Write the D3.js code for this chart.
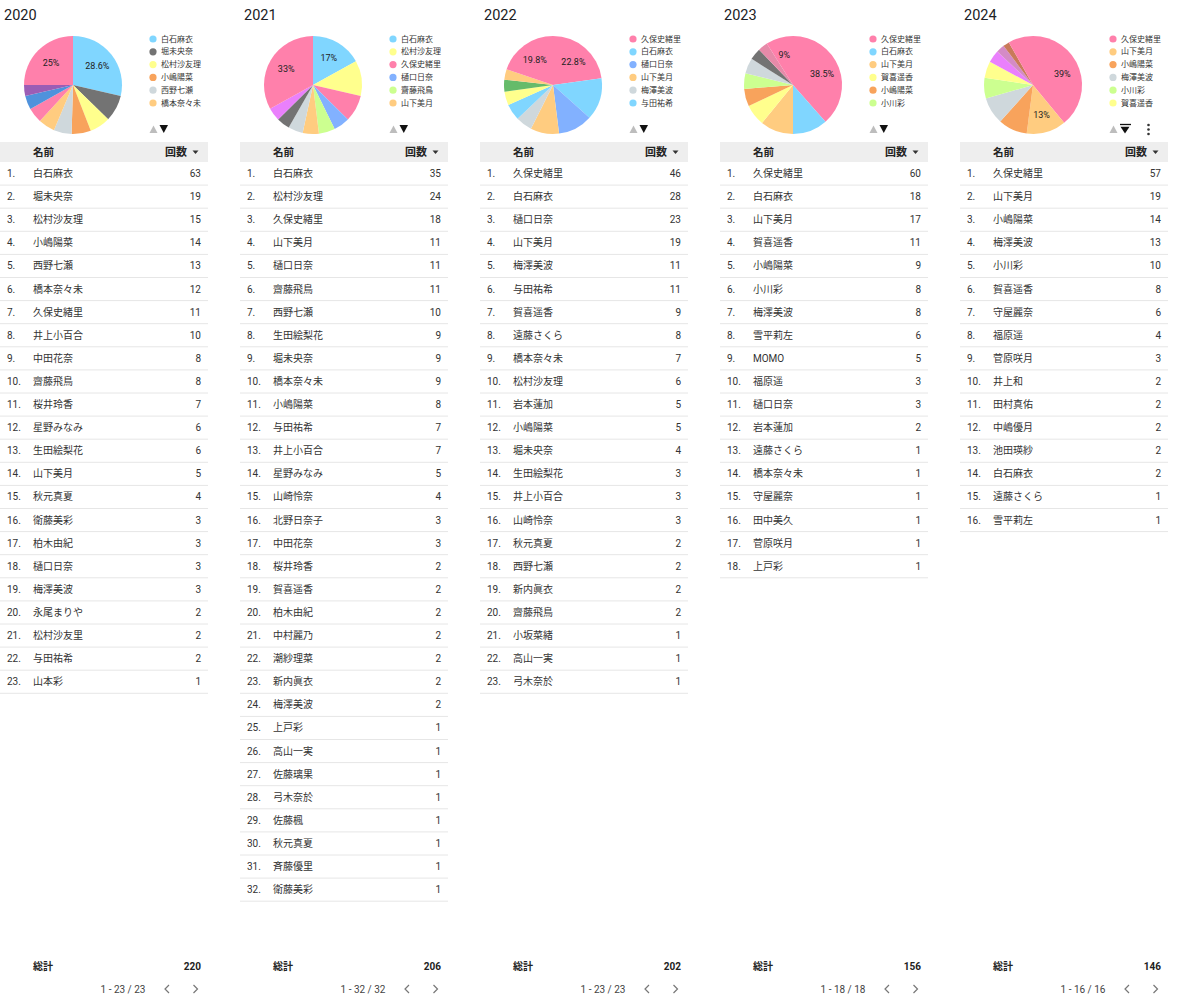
<!DOCTYPE html>
<html><head><meta charset="utf-8">
<script src="https://cdn.jsdelivr.net/npm/d3@7"></script>
<style>
body{margin:0;background:#fff;}
svg text{font-family:Roboto,"Noto Sans CJK JP",sans-serif;}
</style>
</head><body>
<svg id="chart" width="1200" height="1000"></svg>
<script>
const years = ["2020", "2021", "2022", "2023", "2024"];

const names2020 = ["白石麻衣","堀未央奈","松村沙友理","小嶋陽菜","西野七瀬","橋本奈々未","久保史緒里","井上小百合","中田花奈","齋藤飛鳥","桜井玲香","星野みなみ","生田絵梨花","山下美月","秋元真夏","衛藤美彩","柏木由紀","樋口日奈","梅澤美波","永尾まりや","松村沙友里","与田祐希","山本彩"];
const counts2020 = [63,19,15,14,13,12,11,10,8,8,7,6,6,5,4,3,3,3,3,2,2,2,1];

const names2021 = ["白石麻衣","松村沙友理","久保史緒里","山下美月","樋口日奈","齋藤飛鳥","西野七瀬","生田絵梨花","堀未央奈","橋本奈々未","小嶋陽菜","与田祐希","井上小百合","星野みなみ","山崎怜奈","北野日奈子","中田花奈","桜井玲香","賀喜遥香","柏木由紀","中村麗乃","潮紗理菜","新内眞衣","梅澤美波","上戸彩","高山一実","佐藤璃果","弓木奈於","佐藤楓","秋元真夏","斉藤優里","衛藤美彩"];
const counts2021 = [35,24,18,11,11,11,10,9,9,9,8,7,7,5,4,3,3,2,2,2,2,2,2,2,1,1,1,1,1,1,1,1];

const names2022 = ["久保史緒里","白石麻衣","樋口日奈","山下美月","梅澤美波","与田祐希","賀喜遥香","遠藤さくら","橋本奈々未","松村沙友理","岩本蓮加","小嶋陽菜","堀未央奈","生田絵梨花","井上小百合","山崎怜奈","秋元真夏","西野七瀬","新内眞衣","齋藤飛鳥","小坂菜緒","高山一実","弓木奈於"];
const counts2022 = [46,28,23,19,11,11,9,8,7,6,5,5,4,3,3,3,2,2,2,2,1,1,1];

const names2023 = ["久保史緒里","白石麻衣","山下美月","賀喜遥香","小嶋陽菜","小川彩","梅澤美波","雪平莉左","MOMO","福原遥","樋口日奈","岩本蓮加","遠藤さくら","橋本奈々未","守屋麗奈","田中美久","菅原咲月","上戸彩"];
const counts2023 = [60,18,17,11,9,8,8,6,5,3,3,2,1,1,1,1,1,1];

const names2024 = ["久保史緒里","山下美月","小嶋陽菜","梅澤美波","小川彩","賀喜遥香","守屋麗奈","福原遥","菅原咲月","井上和","田村真佑","中嶋優月","池田瑛紗","白石麻衣","遠藤さくら","雪平莉左"];
const counts2024 = [57,19,14,13,10,8,6,4,3,2,2,2,2,2,1,1];

// pie slice order (top 9 + others), as drawn in the reference
const pie2020 = ["白石麻衣","堀未央奈","松村沙友理","小嶋陽菜","西野七瀬","橋本奈々未","久保史緒里","井上小百合","中田花奈"];
const pie2021 = ["白石麻衣","松村沙友理","久保史緒里","樋口日奈","齋藤飛鳥","山下美月","西野七瀬","堀未央奈","生田絵梨花"];
const pie2022 = ["久保史緒里","白石麻衣","樋口日奈","山下美月","梅澤美波","与田祐希","賀喜遥香","遠藤さくら","橋本奈々未"];
const pie2023 = ["久保史緒里","白石麻衣","山下美月","賀喜遥香","小嶋陽菜","小川彩","梅澤美波","雪平莉左","MOMO"];
const pie2024 = ["久保史緒里","山下美月","小嶋陽菜","梅澤美波","小川彩","賀喜遥香","守屋麗奈","福原遥","菅原咲月"];

// slices carrying a percentage label
const labels2020 = ["白石麻衣","その他"];
const labels2021 = ["白石麻衣","その他"];
const labels2022 = ["久保史緒里","その他"];
const labels2023 = ["久保史緒里","その他"];
const labels2024 = ["久保史緒里","山下美月"];

const OTHERS = "その他";

const colorNames = ["白石麻衣","堀未央奈","松村沙友理","小嶋陽菜","西野七瀬","橋本奈々未","久保史緒里","井上小百合","中田花奈","樋口日奈","齋藤飛鳥","山下美月","生田絵梨花","梅澤美波","与田祐希","賀喜遥香","遠藤さくら","小川彩","雪平莉左","MOMO","守屋麗奈","福原遥","菅原咲月",OTHERS];
const colorValues = ["#80d6ff","#737373","#ffff8d","#f8a35c","#cfd8dc","#ffcc80","#ff80ab","#4f92dc","#9b5db5","#82b1ff","#ccff90","#ffcc80","#ea80fc","#cfd8dc","#80d6ff","#ffff8d","#66bb6a","#ccff90","#737373","#e68aa9","#ea80fc","#d48bc6","#c97a5a","#ff80ab"];

const allNames = [names2020, names2021, names2022, names2023, names2024];
const allCounts = [counts2020, counts2021, counts2022, counts2023, counts2024];
const allPies = [pie2020, pie2021, pie2022, pie2023, pie2024];
const allLabels = [labels2020, labels2021, labels2022, labels2023, labels2024];

const color = d3.scaleOrdinal().domain(colorNames).range(colorValues);
const colX = d3.scaleBand().domain(years).range([0, 1200]);
const rowY = d3.scaleLinear().domain([0, 1]).range([162, 185.1]);

const svg = d3.select("#chart");
const pctFmt = v => d3.format(".1f")(v).replace(/\.0$/, "") + "%";

years.forEach((yr, k) => {
  const names = allNames[k], counts = allCounts[k];
  const total = d3.sum(counts);
  const g = svg.append("g").attr("transform", `translate(${colX(yr)},0)`);

  // title
  g.append("text").attr("x", 4).attr("y", 19.5).attr("font-size", 14.5).attr("fill", "#202124").text(yr);

  // pie
  const pieItems = allPies[k].map(n => ({name: n, value: counts[names.indexOf(n)]}));
  pieItems.push({name: OTHERS, value: total - d3.sum(pieItems, d => d.value)});
  const R = 49;
  const arcs = d3.pie().sort(null).value(d => d.value)(pieItems);
  const arc = d3.arc().innerRadius(0).outerRadius(R);
  const labelArc = d3.arc().innerRadius(0).outerRadius(R * 1.27);
  const pg = g.append("g").attr("transform", "translate(73,85)");
  pg.selectAll("path").data(arcs).join("path").attr("d", arc).attr("fill", d => color(d.data.name));
  pg.selectAll("text").data(arcs.filter(d => allLabels[k].includes(d.data.name))).join("text")
    .attr("transform", d => `translate(${labelArc.centroid(d)})`)
    .attr("text-anchor", "middle").attr("dominant-baseline", "central")
    .attr("font-size", 9).attr("fill", "#222")
    .text(d => pctFmt(d.data.value / total * 100));

  // legend
  const leg = g.selectAll("g.leg").data(pieItems.slice(0, 6)).join("g").attr("class", "leg")
    .attr("transform", (d, i) => `translate(153,${39 + i * 12.8})`);
  leg.append("circle").attr("r", 3.6).attr("fill", d => color(d.name));
  leg.append("text").attr("x", 8).attr("dominant-baseline", "central").attr("font-size", 8).attr("fill", "#333").text(d => d.name);

  // paging arrows
  g.append("path").attr("d", "M149.5,133 L153.5,125.5 L157.5,133 Z").attr("fill", "#bdbdbd");
  if (k < 4) {
    g.append("path").attr("d", "M159.5,125 L168,125 L163.75,133 Z").attr("fill", "#111");
  } else {
    g.append("path").attr("d", "M160,124.5 L171,124.5").attr("stroke", "#111").attr("stroke-width", 1.3);
    g.append("path").attr("d", "M160.5,126.8 L169.5,126.8 L165,133.5 Z").attr("fill", "#111");
    [125, 129.5, 134].forEach(cy => g.append("circle").attr("cx", 188.5).attr("cy", cy).attr("r", 1.3).attr("fill", "#333"));
  }

  // header
  g.append("rect").attr("x", 0).attr("y", 142).attr("width", 208).attr("height", 20).attr("fill", "#eeeeee");
  g.append("text").attr("x", 33).attr("y", 152).attr("dominant-baseline", "central").attr("font-size", 10.5).attr("font-weight", "bold").attr("fill", "#222").text("名前");
  g.append("text").attr("x", 187).attr("y", 152).attr("text-anchor", "end").attr("dominant-baseline", "central").attr("font-size", 11).attr("font-weight", "bold").attr("fill", "#222").text("回数");
  g.append("path").attr("d", "M192.5,150.5 L198.5,150.5 L195.5,154 Z").attr("fill", "#333");

  // rows
  const rows = g.selectAll("g.row").data(names.map((n, i) => ({name: n, value: counts[i], i})))
    .join("g").attr("class", "row");
  rows.append("line").attr("x1", 0).attr("x2", 208)
    .attr("y1", d => rowY(d.i + 1)).attr("y2", d => rowY(d.i + 1))
    .attr("stroke", "#e6e6e6").attr("stroke-width", 1);
  const cy = d => (rowY(d.i) + rowY(d.i + 1)) / 2;
  rows.append("text").attr("x", 7).attr("y", cy).attr("dominant-baseline", "central").attr("font-size", 10).attr("fill", "#333").text(d => (d.i + 1) + ".");
  rows.append("text").attr("x", 33).attr("y", cy).attr("dominant-baseline", "central").attr("font-size", 10).attr("fill", "#333").text(d => d.name);
  rows.append("text").attr("x", 201).attr("y", cy).attr("text-anchor", "end").attr("dominant-baseline", "central").attr("font-size", 10).attr("fill", "#333").text(d => d.value);

  // footer
  g.append("text").attr("x", 33).attr("y", 966).attr("dominant-baseline", "central").attr("font-size", 10).attr("font-weight", "bold").attr("fill", "#222").text("総計");
  g.append("text").attr("x", 201).attr("y", 966).attr("text-anchor", "end").attr("dominant-baseline", "central").attr("font-size", 10).attr("font-weight", "bold").attr("fill", "#222").text(total);
  g.append("text").attr("x", 123).attr("y", 989).attr("text-anchor", "middle").attr("dominant-baseline", "central").attr("font-size", 10).attr("fill", "#444").text(`1 - ${names.length} / ${names.length}`);
  g.append("path").attr("d", "M169,985 L165,989 L169,993").attr("fill", "none").attr("stroke", "#777").attr("stroke-width", 1.2);
  g.append("path").attr("d", "M193.5,985 L197.5,989 L193.5,993").attr("fill", "none").attr("stroke", "#777").attr("stroke-width", 1.2);
});
</script>
</body></html>
